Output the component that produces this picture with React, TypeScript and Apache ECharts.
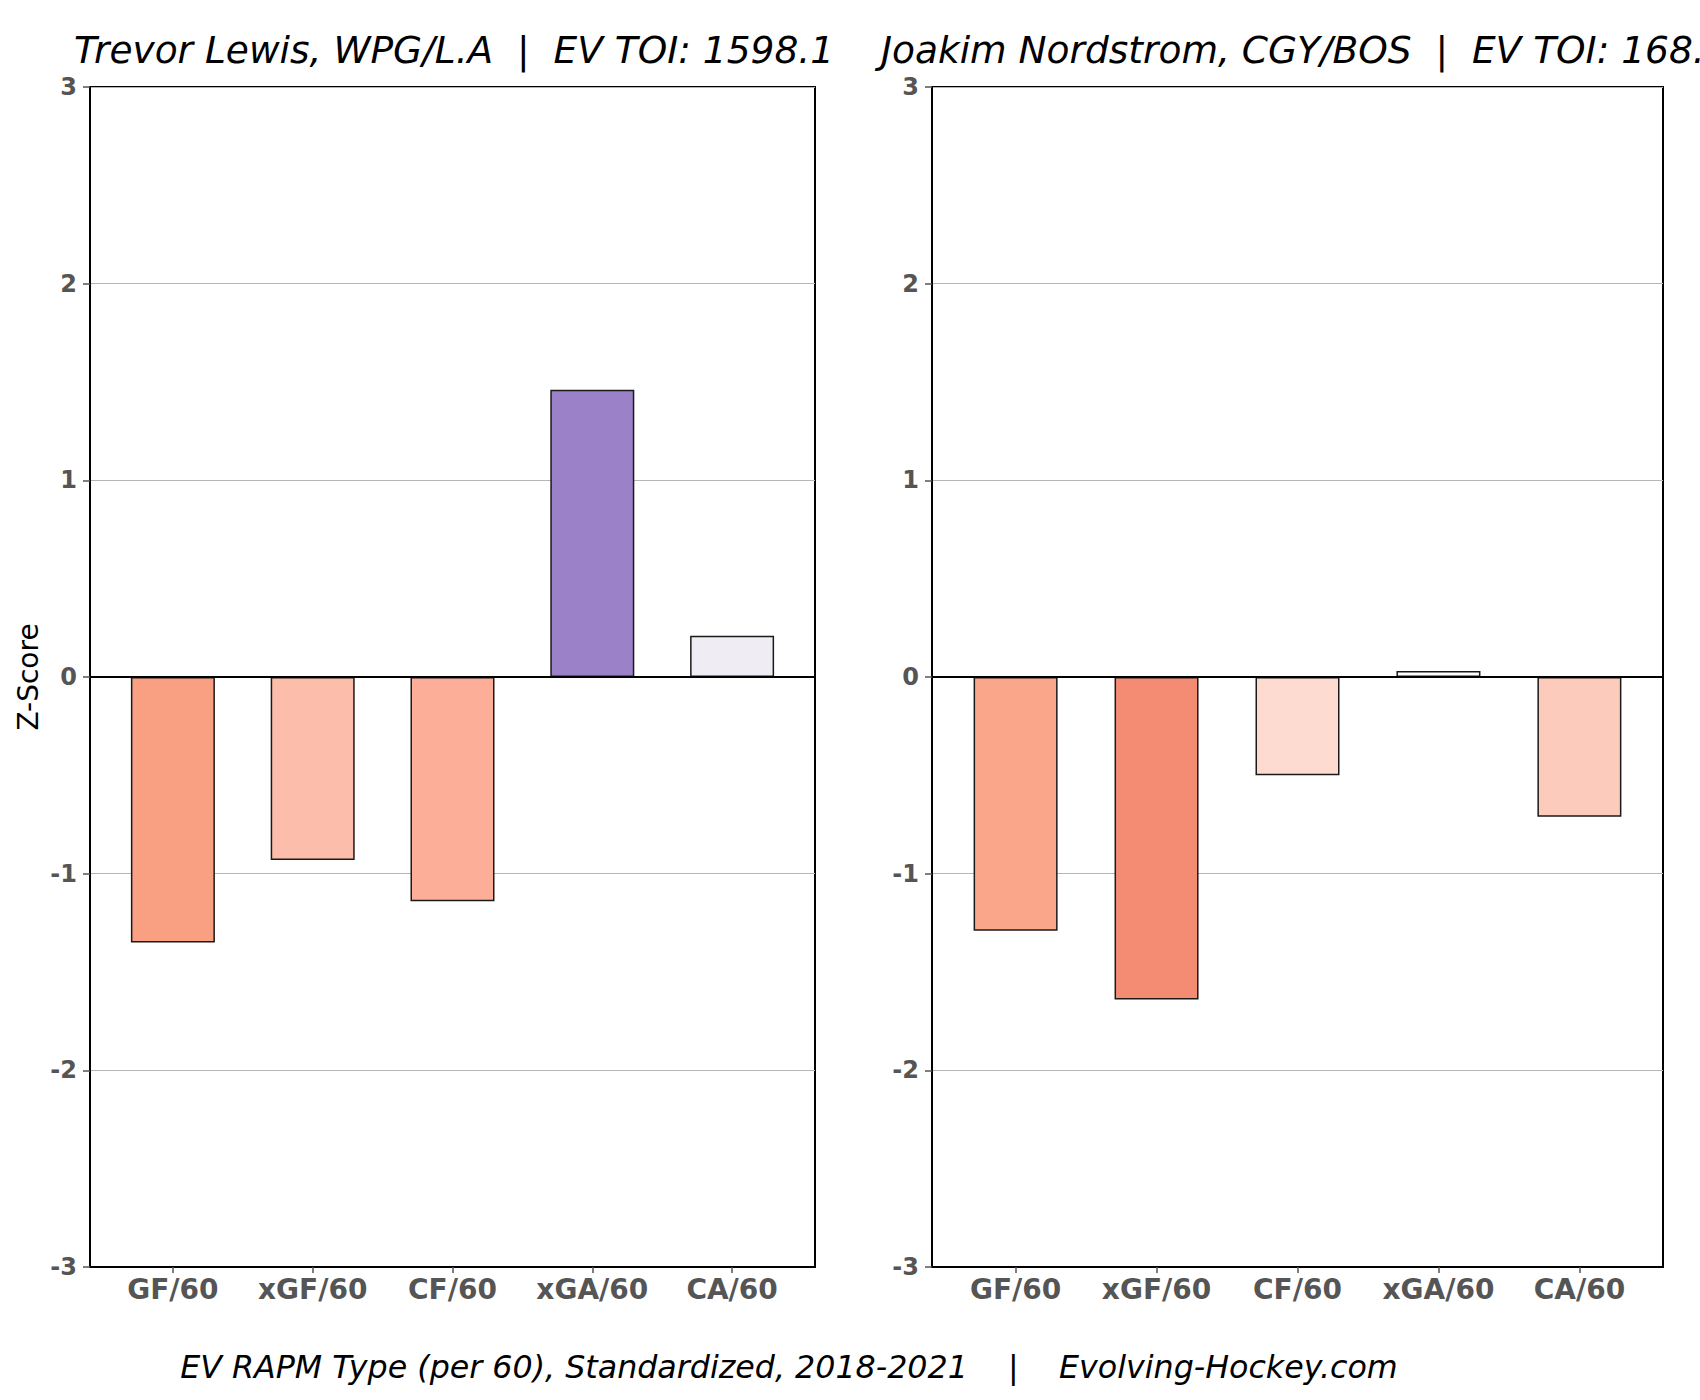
import React, { useEffect, useRef } from "react";
import * as echarts from "echarts";

const categories = ["GF/60", "xGF/60", "CF/60", "xGA/60", "CA/60"];
const leftValues = [-1.35, -0.93, -1.14, 1.46, 0.21];
const rightValues = [-1.29, -1.64, -0.5, 0.03, -0.71];
const leftColors = ["#F9A083", "#FCBDAB", "#FCAE98", "#9B82C8", "#EFECF4"];
const rightColors = ["#F9A68B", "#F48C73", "#FEDBD1", "#FDFDFD", "#FDCBBC"];
const leftTitle = "Trevor Lewis, WPG/L.A  |  EV TOI: 1598.1";
const rightTitle = "Joakim Nordstrom, CGY/BOS  |  EV TOI: 168.4";
const footer = "EV RAPM Type (per 60), Standardized, 2018-2021    |    Evolving-Hockey.com";
const yTicks = [-3, -2, -1, 0, 1, 2, 3];

const FONT = "'DejaVu Sans', 'Noto Sans', sans-serif";

export default function App() {
  const ref = useRef<HTMLDivElement>(null);
  useEffect(() => {
    if (!ref.current) return;
    const chart = echarts.init(ref.current, undefined, { renderer: "svg" });
    const idx = categories.map((_, i) => i);
    const mkX = (gi: number) => ({
      type: "value",
      gridIndex: gi,
      min: -0.593,
      max: 4.593,
      splitLine: { show: false },
      axisLine: { show: true, onZero: false, lineStyle: { color: "#000", width: 2 } },
      axisTick: {
        show: true,
        customValues: idx,
        length: 6,
        lineStyle: { color: "#555", width: 1.5 },
      },
      axisLabel: {
        show: true,
        customValues: idx,
        formatter: (v: number) => categories[Math.round(v)] ?? "",
        fontFamily: FONT,
        fontWeight: "bold",
        fontSize: 28,
        color: "#555",
        margin: 8,
      },
    });
    const mkY = (gi: number) => ({
      type: "value",
      gridIndex: gi,
      min: -3,
      max: 3,
      interval: 1,
      splitLine: { show: true, lineStyle: { color: "#b5b5b5", width: 1 } },
      axisLine: { show: true, onZero: false, lineStyle: { color: "#000", width: 2 } },
      axisTick: { show: true, length: 7, lineStyle: { color: "#555", width: 1.5 } },
      axisLabel: {
        fontFamily: FONT,
        fontWeight: "bold",
        fontSize: 24,
        color: "#555",
        margin: 13,
        formatter: (v: number) => (yTicks.includes(v) ? String(v) : ""),
      },
    });
    const mkSeries = (gi: number, vals: number[], cols: string[]) => ({
      type: "bar",
      xAxisIndex: gi,
      yAxisIndex: gi,
      barWidth: 84,
      data: vals.map((v, i) => ({
        value: [i, v],
        itemStyle: { color: cols[i], borderColor: "#1a1a1a", borderWidth: 1.5 },
      })),
      markLine: {
        silent: true,
        symbol: ["none", "none"],
        label: { show: false },
        lineStyle: { color: "#000", width: 2, type: "solid" },
        data: [{ yAxis: 0 }],
      },
    });
    chart.setOption({
      animation: false,
      backgroundColor: "#fff",
      grid: [
        { left: 90, top: 87, width: 725, height: 1180, show: true, borderColor: "#000", borderWidth: 2, backgroundColor: "transparent" },
        { left: 932, top: 87, width: 731, height: 1180, show: true, borderColor: "#000", borderWidth: 2, backgroundColor: "transparent" },
      ],
      xAxis: [mkX(0), mkX(1)],
      yAxis: [mkY(0), mkY(1)],
      series: [mkSeries(0, leftValues, leftColors), mkSeries(1, rightValues, rightColors)],
      graphic: [
        {
          type: "text",
          x: 74,
          y: 50,
          style: { text: leftTitle, font: `italic 37.5px ${FONT}`, fill: "#000", textAlign: "left", textVerticalAlign: "middle" },
        },
        {
          type: "text",
          x: 881,
          y: 50,
          style: { text: rightTitle, font: `italic 37.5px ${FONT}`, fill: "#000", textAlign: "left", textVerticalAlign: "middle" },
        },
        {
          type: "text",
          x: 28,
          y: 677,
          rotation: Math.PI / 2,
          style: { text: "Z-Score", font: `28px ${FONT}`, fill: "#000", textAlign: "center", textVerticalAlign: "middle" },
        },
        {
          type: "text",
          x: 789,
          y: 1367,
          style: { text: footer, font: `italic 31.7px ${FONT}`, fill: "#000", textAlign: "center", textVerticalAlign: "middle" },
        },
      ],
    });
    return () => chart.dispose();
  }, []);
  return (
    <div
      ref={ref}
      style={{ position: "absolute", left: 0, top: 0, width: 1700, height: 1400, background: "#fff" }}
    />
  );
}
